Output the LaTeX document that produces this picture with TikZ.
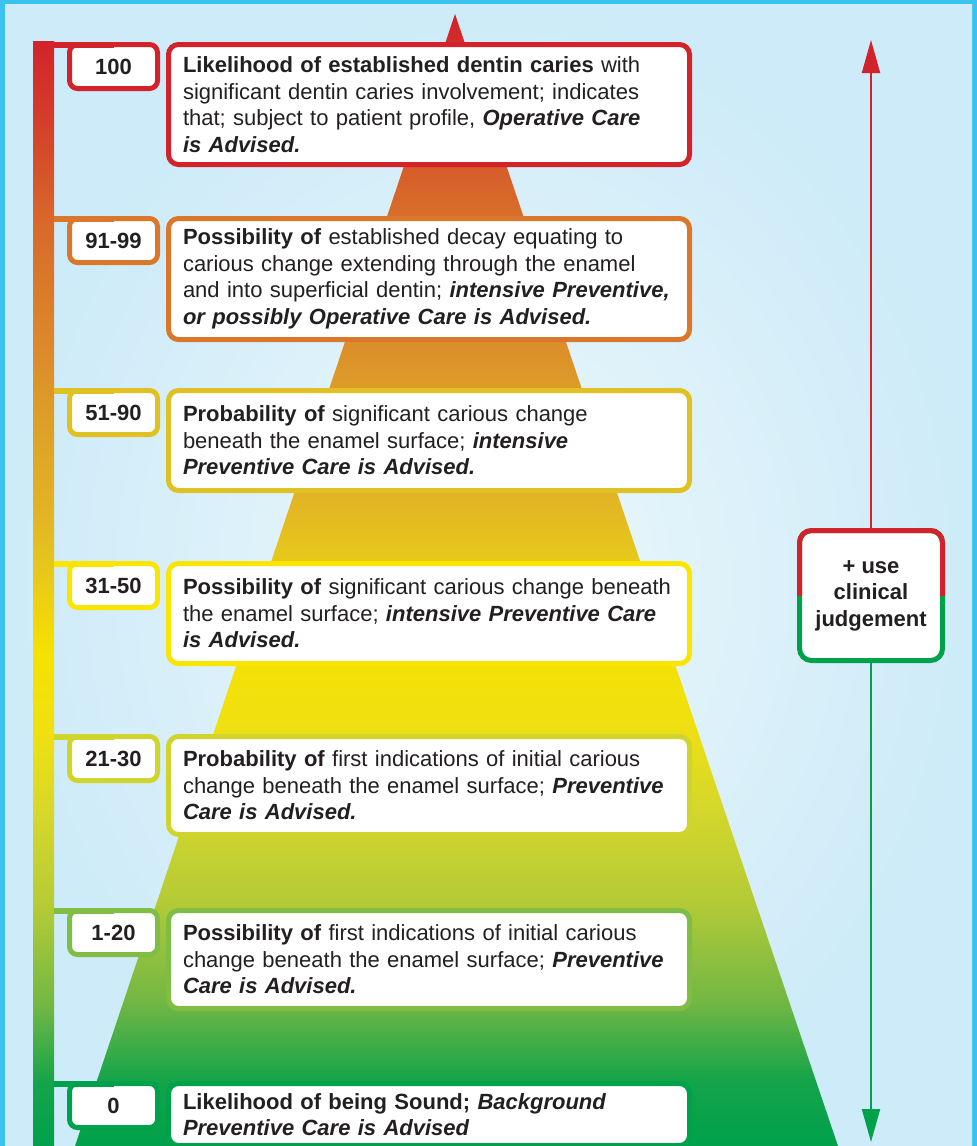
\documentclass[tikz,border=0pt]{standalone}
\usepackage{fontspec}
\setmainfont{Liberation Sans}
\usetikzlibrary{arrows.meta}

% row colours
\definecolor{ink}{HTML}{231F20}
\definecolor{rowA}{HTML}{D2232A}
\definecolor{rowB}{HTML}{DA772B}
\definecolor{rowC}{HTML}{E0C124}
\definecolor{rowD}{HTML}{F9E500}
\definecolor{rowE}{HTML}{D0D52E}
\definecolor{rowF}{HTML}{7FBD45}
\definecolor{rowG}{HTML}{00A14B}
\definecolor{frameblue}{HTML}{3CC2EE}
\definecolor{skyin}{HTML}{EEF8FC}
\definecolor{skyout}{HTML}{CDEBF8}

% gradient stops, green (bottom) to red (top)
\definecolor{g00}{HTML}{00A14B}
\definecolor{g01}{HTML}{14A44A}
\definecolor{g02}{HTML}{72B744}
\definecolor{g03}{HTML}{B5CB36}
\definecolor{g04}{HTML}{D8D82A}
\definecolor{g05}{HTML}{F0E010}
\definecolor{g06}{HTML}{F5E200}
\definecolor{g07}{HTML}{E6C61C}
\definecolor{g08}{HTML}{E2B524}
\definecolor{g09}{HTML}{DC9A28}
\definecolor{g10}{HTML}{DC8E2A}
\definecolor{g11}{HTML}{D8692A}
\definecolor{g12}{HTML}{D4402A}
\definecolor{g13}{HTML}{D2232A}
\pgfdeclareverticalshading{caries}{100bp}{color(0bp)=(g00); color(25bp)=(g00);
  color(27.9bp)=(g01); color(31.4bp)=(g02); color(35.9bp)=(g03); color(40.3bp)=(g04);
  color(43.8bp)=(g05); color(47.3bp)=(g06); color(51.3bp)=(g07); color(53.5bp)=(g08);
  color(58.8bp)=(g09); color(60.4bp)=(g10); color(66.8bp)=(g11); color(71.2bp)=(g12);
  color(75bp)=(g13); color(100bp)=(g13)}

\newcommand{\boldit}[1]{\textbf{\textit{#1}}}

\begin{document}
\begin{tikzpicture}[x=0.5pt,y=-0.5pt,
    lab/.style={draw=#1, fill=white, line width=2.5pt, rounded corners=4pt,
      minimum width=44pt, minimum height=22pt, inner sep=0pt, outer sep=0pt,
      anchor=north west, text=ink, font=\bfseries\fontsize{11}{13.25}\selectfont},
    desc/.style={draw=#1, fill=white, line width=2.5pt, rounded corners=5pt,
      text width=246pt, inner xsep=7.25pt, outer sep=0pt, align=left,
      anchor=north west, text=ink, font=\fontsize{11}{13.25}\selectfont},
    conn/.style={line width=3pt, draw=#1},
    bar/.style={shade, shading=caries, inner sep=0pt, outer sep=0pt, anchor=north west,
      minimum width=10.5pt, minimum height=553pt},
    judge/.style={draw=rowG, fill=white, line width=2.5pt, rounded corners=6pt,
      minimum width=71.5pt, minimum height=65pt, inner sep=0pt, outer sep=0pt,
      align=center, text=ink, font=\bfseries\fontsize{11}{13.25}\selectfont},
    scale arrow/.style={line width=1pt, draw=#1, -{Triangle[width=9pt,length=16.5pt]}}]

    % background and frame
    \useasboundingbox (0,0) rectangle (977,1146);
    \fill[frameblue] (0,0) rectangle (977,1146);
    \shade[inner color=skyin, outer color=skyout] (5,4) rectangle (972,1160);

    % pyramid and scale bar
    \shade[shading=caries] (455,14) -- (838,1146) -- (75,1146) -- cycle;
    \node[bar] (bar) at (33,41) {};

    % score labels
    \node[lab=rowA] (lab1) at (69.5,44.5)   {100};
    \node[lab=rowB] (lab2) at (69.5,218.5)  {91-99};
    \node[lab=rowC] (lab3) at (69.5,390.5)  {51-90};
    \node[lab=rowD] (lab4) at (69.5,563.5)  {31-50};
    \node[lab=rowE] (lab5) at (69.5,736.5)  {21-30};
    \node[lab=rowF] (lab6) at (69.5,910.5)  {1-20};
    \node[lab=rowG] (lab7) at (69.5,1083.5) {0};

    % descriptions
    \node[desc=rowA, minimum height=60pt] (desc1) at (168.5,44.5)
      {\textbf{Likelihood of established dentin caries} with\\
       significant dentin caries involvement; indicates\\
       that; subject to patient profile, \boldit{Operative Care}\\
       \boldit{is Advised.}};
    \node[desc=rowB, minimum height=60.5pt] (desc2) at (168.5,218.5)
      {\textbf{Possibility of} established decay equating to\\
       carious change extending through the enamel\\
       and into superficial dentin; \boldit{intensive Preventive,}\\
       \boldit{or possibly Operative Care is Advised.}};
    \node[desc=rowC, minimum height=50pt] (desc3) at (168.5,390.5)
      {\textbf{Probability of} significant carious change\\
       beneath the enamel surface; \boldit{intensive}\\
       \boldit{Preventive Care is Advised.}};
    \node[desc=rowD, minimum height=50pt] (desc4) at (168.5,563.5)
      {\textbf{Possibility of} significant carious change beneath\\
       the enamel surface; \boldit{intensive Preventive Care}\\
       \boldit{is Advised.}};
    \node[desc=rowE, minimum height=49pt] (desc5) at (168.5,736.5)
      {\textbf{Probability of} first indications of initial carious\\
       change beneath the enamel surface; \boldit{Preventive}\\
       \boldit{Care is Advised.}};
    \node[desc=rowF, minimum height=49pt] (desc6) at (168.5,910.5)
      {\textbf{Possibility of} first indications of initial carious\\
       change beneath the enamel surface; \boldit{Preventive}\\
       \boldit{Care is Advised.}};
    \node[desc=rowG, minimum height=31pt] (desc7) at (168.5,1083.5)
      {\textbf{Likelihood of being Sound;} \boldit{Background}\\
       \boldit{Preventive Care is Advised}};

    % connectors from the bar
    \foreach \i/\c in {1/rowA,2/rowB,3/rowC,4/rowD,5/rowE,6/rowF,7/rowG}
      \draw[conn=\c] (bar.east |- lab\i.north) -- (lab\i.north);

    % clinical judgement box, red top half
    \node[judge] (judge) at (871,595.5) {+ use\\clinical\\judgement};
    \begin{scope}
      \clip ([shift={(-5pt,5pt)}]judge.north west) rectangle ([xshift=5pt]judge.east);
      \draw[rowA, line width=2.5pt, rounded corners=6pt]
        (judge.south west) rectangle (judge.north east);
    \end{scope}

    % arrows
    \coordinate (tipup) at (871,40);
    \coordinate (tipdown) at (871,1142);
    \draw[scale arrow=rowA] (judge.north) -- (tipup);
    \draw[scale arrow=rowG] (judge.south) -- (tipdown);
\end{tikzpicture}
\end{document}
